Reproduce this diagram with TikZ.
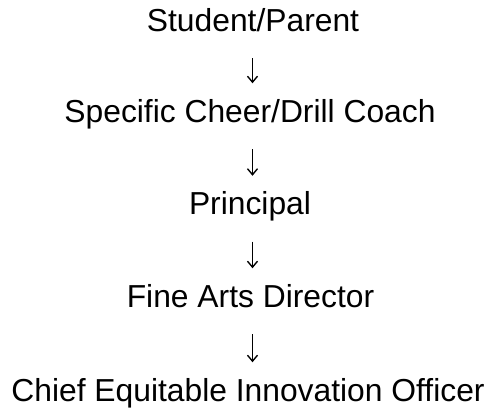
\documentclass[tikz,border=0pt]{standalone}
\usepackage{fontspec}
\setmainfont{Liberation Sans}
\usetikzlibrary{arrows.meta}
\begin{document}
\begin{tikzpicture}[x=1pt,y=-1pt,
  lbl/.style={anchor=base,inner sep=0pt,text height=23pt,text depth=7pt,
    font=\fontsize{31.8}{37}\selectfont},
  arr/.style={line width=1.4pt,-{Straight Barb[length=6pt,width=10pt,line width=1.4pt]},
    shorten <=19.5pt,shorten >=16pt}]
\useasboundingbox (0,0) rectangle (496,411);
\node[lbl] (s) at (253,31.5) {Student/Parent};
\node[lbl] (c) at (250,122.5) {Specific Cheer/Drill Coach};
\node[lbl] (p) at (250,215) {Principal};
\node[lbl] (f) at (250.5,307.5) {Fine Arts Director};
\node[lbl] (o) at (248,401.5) {Chief Equitable Innovation Officer};
\draw[arr] ([xshift=-0.5pt]s.south) -- ([xshift=2.5pt]c.north);
\draw[arr] ([xshift=2.5pt]c.south) -- ([xshift=2.5pt]p.north);
\draw[arr] ([xshift=2.5pt]p.south) -- ([xshift=2pt]f.north);
\draw[arr] ([xshift=2pt]f.south) -- ([xshift=4.5pt]o.north);
\end{tikzpicture}
\end{document}
